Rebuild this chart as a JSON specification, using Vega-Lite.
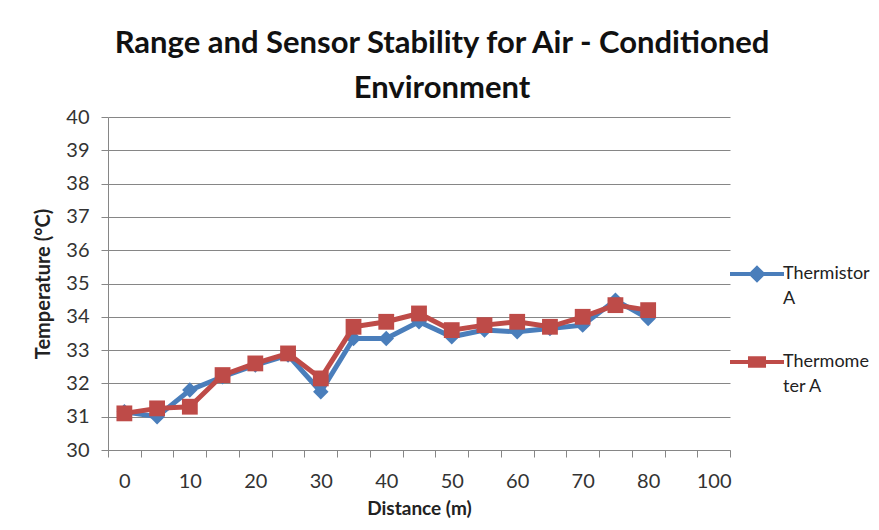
{
  "$schema": "https://vega.github.io/schema/vega-lite/v6.json",
  "autosize": {"type": "none"},
  "width": 622,
  "height": 333,
  "padding": {"left": 108, "top": 117, "right": 149, "bottom": 80},
  "background": "white",
  "config": {
    "font": "Lato",
    "view": {"stroke": null}
  },
  "title": {
    "text": ["Range and Sensor Stability for Air - Conditioned", "Environment"],
    "font": "Lato",
    "fontSize": 31,
    "fontWeight": "bold",
    "color": "#111111",
    "anchor": "middle",
    "frame": "group",
    "dx": 23,
    "offset": 2,
    "lineHeight": 45
  },
  "data": {
    "values": [
      {"distance": 0, "series": "Thermistor A", "temp": 31.15},
      {"distance": 5, "series": "Thermistor A", "temp": 31.0},
      {"distance": 10, "series": "Thermistor A", "temp": 31.8},
      {"distance": 15, "series": "Thermistor A", "temp": 32.2},
      {"distance": 20, "series": "Thermistor A", "temp": 32.55},
      {"distance": 25, "series": "Thermistor A", "temp": 32.85},
      {"distance": 30, "series": "Thermistor A", "temp": 31.75},
      {"distance": 35, "series": "Thermistor A", "temp": 33.35},
      {"distance": 40, "series": "Thermistor A", "temp": 33.35},
      {"distance": 45, "series": "Thermistor A", "temp": 33.85},
      {"distance": 50, "series": "Thermistor A", "temp": 33.4},
      {"distance": 55, "series": "Thermistor A", "temp": 33.6},
      {"distance": 60, "series": "Thermistor A", "temp": 33.55},
      {"distance": 65, "series": "Thermistor A", "temp": 33.65},
      {"distance": 70, "series": "Thermistor A", "temp": 33.75},
      {"distance": 75, "series": "Thermistor A", "temp": 34.5},
      {"distance": 80, "series": "Thermistor A", "temp": 33.95},
      {"distance": 0, "series": "Thermometer A", "temp": 31.1},
      {"distance": 5, "series": "Thermometer A", "temp": 31.25},
      {"distance": 10, "series": "Thermometer A", "temp": 31.3},
      {"distance": 15, "series": "Thermometer A", "temp": 32.25},
      {"distance": 20, "series": "Thermometer A", "temp": 32.6},
      {"distance": 25, "series": "Thermometer A", "temp": 32.9},
      {"distance": 30, "series": "Thermometer A", "temp": 32.15},
      {"distance": 35, "series": "Thermometer A", "temp": 33.7},
      {"distance": 40, "series": "Thermometer A", "temp": 33.85},
      {"distance": 45, "series": "Thermometer A", "temp": 34.1},
      {"distance": 50, "series": "Thermometer A", "temp": 33.6},
      {"distance": 55, "series": "Thermometer A", "temp": 33.75},
      {"distance": 60, "series": "Thermometer A", "temp": 33.85},
      {"distance": 65, "series": "Thermometer A", "temp": 33.7},
      {"distance": 70, "series": "Thermometer A", "temp": 34.0},
      {"distance": 75, "series": "Thermometer A", "temp": 34.35},
      {"distance": 80, "series": "Thermometer A", "temp": 34.2}
    ]
  },
  "encoding": {
    "x": {
      "field": "distance",
      "type": "ordinal",
      "bandPosition": 0.5,
      "scale": {
        "type": "band",
        "domain": [0, 5, 10, 15, 20, 25, 30, 35, 40, 45, 50, 55, 60, 65, 70, 75, 80, 90, 100],
        "paddingInner": 0,
        "paddingOuter": 0
      },
      "axis": {
        "title": "Distance  (m)",
        "titleFont": "Lato",
        "titleFontSize": 19,
        "titleFontWeight": "bold",
        "titleColor": "#222222",
        "titlePadding": 8,
        "labelAngle": 0,
        "labelFontSize": 20,
        "labelColor": "#333333",
        "labelPadding": 14,
        "labelExpr": "indexof([0,10,20,30,40,50,60,70,80,100], datum.value) >= 0 ? datum.label : ''",
        "tickBand": "extent",
        "tickSize": 7,
        "tickColor": "#868686",
        "domainColor": "#868686",
        "grid": false
      }
    },
    "y": {
      "field": "temp",
      "type": "quantitative",
      "scale": {"domain": [30, 40], "zero": false, "nice": false},
      "axis": {
        "title": "Temperature (°C)",
        "titleFont": "Lato",
        "titleFontSize": 20,
        "titleFontWeight": "bold",
        "titleColor": "#222222",
        "titlePadding": 12,
        "values": [30, 31, 32, 33, 34, 35, 36, 37, 38, 39, 40],
        "labelFontSize": 20,
        "labelColor": "#333333",
        "labelPadding": 12,
        "tickSize": 7,
        "tickColor": "#868686",
        "domainColor": "#868686",
        "grid": true,
        "gridColor": "#868686",
        "gridOpacity": 1
      }
    },
    "color": {
      "field": "series",
      "type": "nominal",
      "scale": {"domain": ["Thermistor A", "Thermometer A"], "range": ["#4A7EBB", "#BE4B48"]},
      "legend": {
        "title": null,
        "orient": "none",
        "legendX": 620,
        "legendY": 128,
        "symbolSize": 2916,
        "symbolStrokeWidth": 4,
        "rowPadding": 25,
        "labelFontSize": 18,
        "labelColor": "#222222",
        "labelOffset": -3,
        "labelLimit": 200,
        "encode": {
          "symbols": {
            "update": {
              "shape": {"signal": "datum.value === 'Thermistor A' ? 'M-1,0H1M0,-0.22L0.22,0L0,0.22L-0.22,0Z' : 'M-1,0H1M-0.26,-0.14H0.26V0.14H-0.26Z'"},
              "fill": {"scale": "color", "field": "value"},
              "stroke": {"scale": "color", "field": "value"},
              "strokeWidth": {"value": 4},
              "opacity": {"value": 1}
            }
          },
          "labels": {
            "update": {
              "text": {"signal": "datum.value === 'Thermistor A' ? ['Thermistor', 'A'] : ['Thermome', 'ter A']"},
              "lineHeight": {"value": 25}
            }
          }
        }
      }
    }
  },
  "layer": [
    {
      "transform": [{"filter": "datum.series === 'Thermistor A'"}],
      "mark": {"type": "line", "strokeWidth": 5}
    },
    {
      "transform": [{"filter": "datum.series === 'Thermistor A'"}],
      "mark": {"type": "point", "shape": "diamond", "size": 240, "filled": true, "opacity": 1, "color": "#4F81BD"}
    },
    {
      "transform": [{"filter": "datum.series === 'Thermometer A'"}],
      "mark": {"type": "line", "strokeWidth": 5}
    },
    {
      "transform": [{"filter": "datum.series === 'Thermometer A'"}],
      "mark": {"type": "point", "shape": "square", "size": 250, "filled": true, "opacity": 1, "color": "#C0504D"}
    }
  ]
}
